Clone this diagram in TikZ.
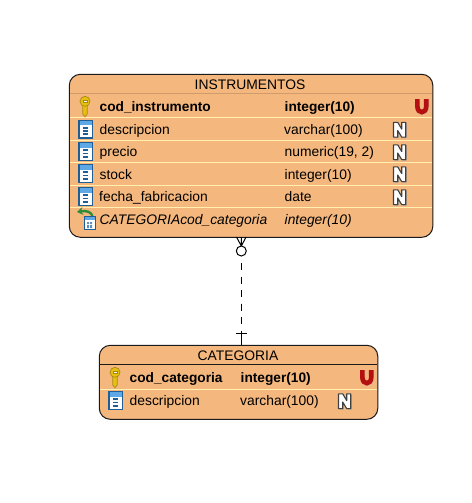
\documentclass[tikz,border=0pt]{standalone}
\usepackage{fontspec}
\setmainfont{Liberation Sans}
\usetikzlibrary{arrows.meta}
\definecolor{entfill}{HTML}{F4B77D}
\definecolor{sepline}{HTML}{FFF0B0}
\definecolor{hdrline}{HTML}{D19C6C}
\definecolor{edgeink}{HTML}{1A1A1A}
\definecolor{iconblue}{HTML}{1F5F96}
\definecolor{iconsky}{HTML}{5FA8E6}
\definecolor{keygold}{HTML}{E8BE10}
\definecolor{keydark}{HTML}{A88A10}
\definecolor{ured}{HTML}{B50F0F}
\definecolor{fkgreen}{HTML}{2F8A3A}
\newcommand{\fs}{\fontsize{13.85}{16}\selectfont}
\newcommand{\fb}{\fontsize{13.7}{16}\selectfont\bfseries}
\tikzset{
  x=1pt,y=-1pt,
  entity/.style={draw=edgeink,line width=1pt,fill=entfill,rounded corners=11pt,inner sep=0pt,anchor=north west},
  lbl/.style={anchor=base west,inner sep=0pt,text=black,font=\fs},
  lblb/.style={lbl,font=\fb},
  lbli/.style={lbl,font=\fs\itshape},
  title/.style={anchor=base,inner sep=0pt,text=black,font=\fs},
  sep/.style={draw=sepline,line width=1pt},
  colicon/.pic={
    \fill[white] (0,0) rectangle (14.5,19);
    \fill[iconsky] (0,0) rectangle (14.5,5.5);
    \draw[iconblue,line width=1.2pt] (0.6,0.6) rectangle (13.9,18.4);
    \draw[iconblue,line width=1.8pt] (5,8.2)--(9.5,8.2) (4.5,11.5)--(10,11.5) (4.5,14.8)--(10,14.8);
  },
  keyicon/.pic={
    \fill[keygold,draw=keydark,line width=.7pt] (-2.2,6) -- (-2.2,17) -- (0,19.8) -- (2.2,17) -- (2.2,6) -- cycle;
    \fill[keygold,draw=keydark,line width=.7pt] (0,4.3) circle (5);
    \fill[white,draw=keydark,line width=.4pt] (-2,2.8) rectangle (2,4.8);
  },
  fkicon/.pic={
    \draw[fkgreen,line width=2.4pt,-{Stealth[length=6pt,width=8pt]}] (15.5,7) .. controls (14,2.5) and (9,1.5) .. (0,3);
    \fill[white] (7,7.5) rectangle (18,20.5);
    \fill[iconsky] (7,7.5) rectangle (18,11);
    \draw[iconblue,line width=.8pt] (7,7.5) rectangle (18,20.5);
    \fill[iconblue!70] (10,13) rectangle (12,15) (13,13) rectangle (15,15) (10,16) rectangle (12,19) (13,16) rectangle (15,19);
  },
  uicon/.pic={
    \draw[gray!70,line width=4.6pt,opacity=.45] (2.9,.8) -- (2.9,8) .. controls (2.9,15.5) and (11.7,15.5) .. (11.7,8) -- (11.7,.8);
    \draw[ured,line width=4.6pt] (2.4,0) -- (2.4,7.5) .. controls (2.4,15) and (11.2,15) .. (11.2,7.5) -- (11.2,0);
  },
  nicon/.pic={
    \fill[black!35] (1.8,1.6) -- (6,1.6) -- (10,8) -- (10,1.6) -- (14.2,1.6) -- (14.2,16.6) -- (10,16.6) -- (6,10) -- (6,16.6) -- (1.8,16.6) -- cycle;
    \fill[white,draw=black!75,line width=1.1pt,line join=round] (1,.8) -- (5.2,.8) -- (9.2,7.6) -- (9.2,.8) -- (13.2,.8) -- (13.2,15.6) -- (9.2,15.6) -- (5.2,9) -- (5.2,15.6) -- (1,15.6) -- cycle;
  }
}
\begin{document}
\begin{tikzpicture}
\useasboundingbox (0,0) rectangle (471,503);
\fill[white] (0,0) rectangle (471,503);
\node[entity,minimum width=363.5pt,minimum height=163pt] (inst) at (68.8,73.8) {};
\node[entity,minimum width=278.5pt,minimum height=74pt] (cat) at (98.8,344.8) {};
\coordinate (connT) at (241.3,237);
\coordinate (connB) at (241.3,345);
\coordinate (crowTip) at (241.3,246);
\coordinate (ringC) at (241.3,251);
\coordinate (dashA) at (241.3,256);
\coordinate (barC) at (241.3,333.5);
\draw[black,line width=1pt,dash pattern=on 7pt off 6.5pt] (dashA) ++(0,7) -- (barC);
\draw[black,line width=1pt] (barC) -- (connB);
\draw[black,line width=1pt] (barC) ++(-5.5,0) -- ++(11,0);
\draw[black,line width=1pt] (crowTip) -- (connT) (crowTip) -- ++(-4.8,-9) (crowTip) -- ++(4.8,-9);
\draw[black,line width=1pt,fill=white] (ringC) circle (5);
% INSTRUMENTOS
\draw[hdrline,line width=1pt] (70,93.5) -- (432,93.5);
\draw[sep] (70,117.5) -- (432,117.5) (70,140) -- (432,140) (70,162.5) -- (432,162.5) (70,185) -- (432,185) (70,207.5) -- (432,207.5);
\node[title] (instT) at (250,89) {INSTRUMENTOS};
\pic at (85,97) {keyicon};
\pic at (78.3,119.5) {colicon};
\pic at (78.3,142) {colicon};
\pic at (78.3,164) {colicon};
\pic at (78.3,187) {colicon};
\pic at (77,209) {fkicon};
\node[lblb] (i1) at (99.5,111.7) {cod\_instrumento};
\node[lbl] (i2) at (99.5,134) {descripcion};
\node[lbl] (i3) at (99.5,156.5) {precio};
\node[lbl] (i4) at (99.5,179) {stock};
\node[lbl] (i5) at (99,201.5) {fecha\_fabricacion};
\node[lbli] (i6) at (99.5,224) {CATEGORIAcod\_categoria};
\node[lblb] (t1) at (284.5,111.7) {integer(10)};
\node[lbl] (t2) at (284,134) {varchar(100)};
\node[lbl] (t3) at (284.5,156.5) {numeric(19, 2)};
\node[lbl] (t4) at (284.5,179) {integer(10)};
\node[lbl] (t5) at (284.5,201.5) {date};
\node[lbli] (t6) at (284.5,224) {integer(10)};
\pic at (415,99) {uicon};
\pic at (392.5,121.5) {nicon};
\pic at (392.5,144) {nicon};
\pic at (392.5,166) {nicon};
\pic at (392.5,189) {nicon};
% CATEGORIA
\draw[edgeink,line width=1pt] (100,364.5) -- (377,364.5);
\draw[sep] (100,389.5) -- (377,389.5);
\node[title] (catT) at (238,360) {CATEGORIA};
\pic at (115,368) {keyicon};
\pic at (108.3,391) {colicon};
\node[lblb] (c1) at (129.5,382.7) {cod\_categoria};
\node[lbl] (c2) at (129.5,405) {descripcion};
\node[lblb] (c3) at (240.5,382.7) {integer(10)};
\node[lbl] (c4) at (240,405) {varchar(100)};
\pic at (360,370) {uicon};
\pic at (337.5,393) {nicon};
\end{tikzpicture}
\end{document}
